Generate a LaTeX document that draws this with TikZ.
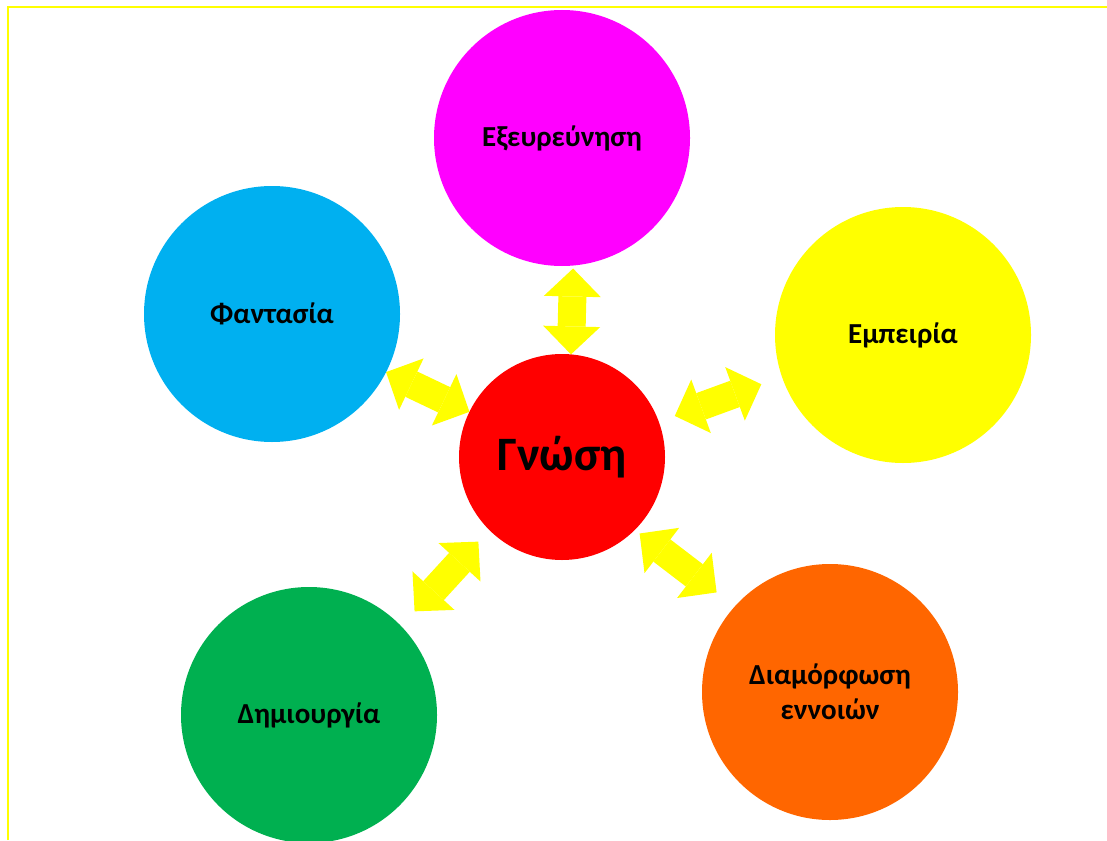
\documentclass[tikz,border=0pt]{standalone}
\usepackage{fontspec}
\setmainfont{Carlito}
\usepackage{tikz}
\usetikzlibrary{arrows.meta}

\definecolor{explore}{RGB}{255,0,255}
\definecolor{fancy}{RGB}{0,176,240}
\definecolor{experience}{RGB}{255,255,0}
\definecolor{create}{RGB}{0,176,80}
\definecolor{concept}{RGB}{255,102,0}

\begin{document}
\begin{tikzpicture}[x=1pt,y=-1pt,
		every node/.style={circle,inner sep=0pt,outer sep=0pt,align=center,
			font=\bfseries\fontsize{29}{35}\selectfont},
		bubble/.style={minimum size=256pt},
		link/.style={experience,line width=28pt,
			{Triangle[width=57pt,length=28pt,line width=0pt]}-{Triangle[width=57pt,length=28pt,line width=0pt]}}]
	\useasboundingbox (0,0) rectangle (1107,840);
	\draw[experience,line width=1.5pt] (8,840) |- (1107,7);
	
	\node[bubble,fill=explore] (exer) at (562,138) {Εξευρεύνηση};
	\node[bubble,fill=fancy] (fant) at (272,314) {Φαντασία};
	\node[bubble,fill=experience] (emp) at (903,335) {Εμπειρία};
	\node[bubble,fill=create] (dimi) at (309,715) {Δημιουργία};
	\node[bubble,fill=concept] (diam) at (830,692) {Διαμόρφωση\\εννοιών};
	\node[fill=red,minimum size=206pt,font=\bfseries\fontsize{48}{58}\selectfont] (gnosi) at (562,457) {Γνώση};
	
	%double arrows
	\draw[link,shorten >=3pt] (gnosi.85) -- (exer.-85.5);
	\draw[link] (gnosi.154) -- (fant.-27);
	\draw[link,shorten <=17pt,shorten >=22pt] (gnosi.20) -- (emp.199.5);
	\draw[link,shorten <=16pt,shorten >=20pt] (gnosi.-135) -- (dimi.44.5);
	\draw[link,shorten <=6pt,shorten >=23pt] (gnosi.-45) -- (diam.138);
\end{tikzpicture}
\end{document}
